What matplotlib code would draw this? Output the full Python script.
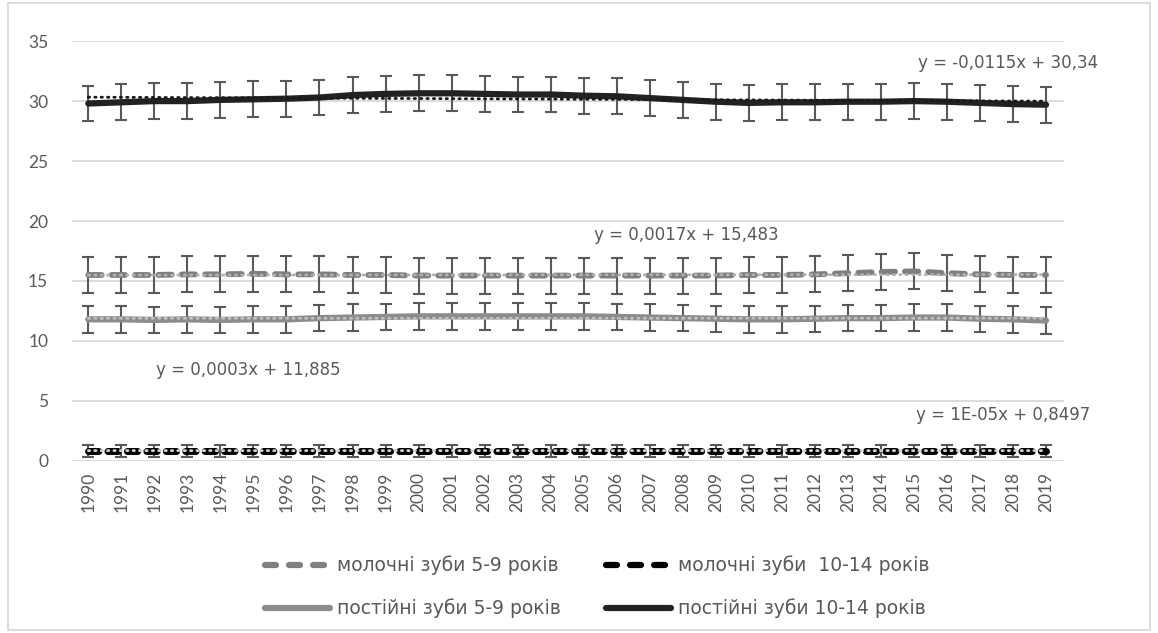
import numpy as np
import matplotlib.pyplot as plt
from matplotlib.patches import Rectangle
from matplotlib.lines import Line2D

plt.rcParams['font.family'] = ['Lato', 'DejaVu Sans']

years = list(range(1990, 2020))

# середні значення
milk_5_9 = [15.5, 15.5, 15.5, 15.55, 15.55, 15.6, 15.55, 15.55, 15.5, 15.5,
            15.45, 15.45, 15.45, 15.45, 15.45, 15.45, 15.45, 15.45, 15.45, 15.45,
            15.5, 15.5, 15.55, 15.65, 15.75, 15.8, 15.65, 15.55, 15.5, 15.5]
milk_10_14 = [0.85] * 30
perm_5_9 = [11.8, 11.8, 11.75, 11.8, 11.75, 11.8, 11.8, 11.9, 11.95, 12.0,
            12.05, 12.05, 12.05, 12.05, 12.05, 12.05, 12.0, 11.95, 11.9, 11.85,
            11.8, 11.8, 11.85, 11.9, 11.9, 11.95, 11.95, 11.85, 11.8, 11.7]
perm_10_14 = [29.8, 29.9, 30.0, 30.0, 30.1, 30.15, 30.2, 30.3, 30.5, 30.6,
              30.65, 30.65, 30.6, 30.55, 30.55, 30.45, 30.4, 30.25, 30.1, 29.95,
              29.85, 29.9, 29.9, 29.95, 29.95, 30.0, 29.95, 29.85, 29.75, 29.7]

# похибки
err_milk_5_9 = [1.5] * 30
err_milk_10_14 = [0.5] * 30
err_perm_5_9 = [1.1] * 30
err_perm_10_14 = [1.5] * 30

# лінійні тренди (x = 1..30)
trends = {
    'milk_5_9': (0.0017, 15.483),
    'milk_10_14': (0.00001, 0.8497),
    'perm_5_9': (0.0003, 11.885),
    'perm_10_14': (-0.0115, 30.34),
}
trend_labels = {
    'milk_5_9': 'y = 0,0017x + 15,483',
    'milk_10_14': 'y = 1E-05x + 0,8497',
    'perm_5_9': 'y = 0,0003x + 11,885',
    'perm_10_14': 'y = -0,0115x + 30,34',
}
# положення підписів рівнянь (рік, значення)
label_pos = {
    'perm_10_14': (2017.85, 33.2),
    'milk_5_9': (2008.1, 18.8),
    'perm_5_9': (1994.85, 7.6),
    'milk_10_14': (2017.7, 3.8),
}

labels = {
    'milk_5_9': 'молочні зуби 5-9 років',
    'milk_10_14': 'молочні зуби  10-14 років',
    'perm_5_9': 'постійні зуби 5-9 років',
    'perm_10_14': 'постійні зуби 10-14 років',
}

text_col = '#595959'
grid_col = '#d9d9d9'
err_col = '#595959'
W, H = 1158, 633

fig = plt.figure(figsize=(W / 100, H / 100), dpi=100)
ax = fig.add_axes([0.062, 0.272, 0.857, 0.663])

x = np.array(years)
xi = np.arange(1, 31)

# ключ, значення, похибки, колір лінії, товщина, штрихи (None = суцільна), колір тренду
series = [
    ('milk_5_9', milk_5_9, err_milk_5_9, '#7f7f7f', 4.2, (2.3, 1.7), '#b0b0b0'),
    ('milk_10_14', milk_10_14, err_milk_10_14, '#000000', 5.0, (1.5, 1.3), '#d0d0d0'),
    ('perm_5_9', perm_5_9, err_perm_5_9, '#8c8c8c', 4.5, None, '#bfbfbf'),
    ('perm_10_14', perm_10_14, err_perm_10_14, '#222222', 4.5, None, '#1a1a1a'),
]

for key, vals, errs, col, lw, dash, tcol in series:
    ax.errorbar(x, vals, yerr=errs, fmt='none', ecolor=err_col,
                elinewidth=1.5, capsize=4.5, capthick=1.5, zorder=2)
    if dash:
        ax.plot(x, vals, color=col, lw=lw, dashes=dash,
                dash_capstyle='round', zorder=3)
    else:
        ax.plot(x, vals, color=col, lw=lw, solid_capstyle='round', zorder=3)
    k, b = trends[key]
    ax.plot(x, k * xi + b, color=tcol, lw=2, linestyle=(0, (0.5, 1.8)),
            dash_capstyle='round', zorder=4)
    tx, ty = label_pos[key]
    ax.text(tx, ty, trend_labels[key], color=text_col, fontsize=12,
            family='DejaVu Sans', ha='center', va='center')

ax.set_xlim(1989.5, 2019.55)
ax.set_ylim(0, 35)
ax.set_yticks(range(0, 36, 5))
ax.set_xticks(years)
ax.set_xticklabels([str(y) for y in years], rotation=90)
ax.tick_params(axis='both', length=0, colors=text_col, labelsize=12.5)
ax.tick_params(axis='y', pad=17)
ax.tick_params(axis='x', pad=8)
ax.yaxis.grid(True, color=grid_col, lw=1.3)
ax.set_axisbelow(True)
for s in ax.spines.values():
    s.set_visible(False)

# легенда вручну: два рядки по два елементи (координати в пікселях)
legend_items = [
    ('milk_5_9', 265, 565, '#7f7f7f', True),
    ('milk_10_14', 606, 565, '#000000', True),
    ('perm_5_9', 265, 608, '#8c8c8c', False),
    ('perm_10_14', 606, 608, '#222222', False),
]
for key, px, py, col, dashed in legend_items:
    yf = 1 - py / H
    if dashed:
        x0, x1, tx = px, px + 59, px + 72
        ln = Line2D([x0 / W, x1 / W], [yf, yf], transform=fig.transFigure,
                    color=col, lw=4.5, dashes=(1.75, 2.1), dash_capstyle='round')
    else:
        x0, x1, tx = px, px + 65, px + 72
        ln = Line2D([x0 / W, x1 / W], [yf, yf], transform=fig.transFigure,
                    color=col, lw=4.5, solid_capstyle='round')
    fig.add_artist(ln)
    fig.text(tx / W, yf, labels[key], color=text_col, fontsize=13.5,
             family='DejaVu Sans', ha='left', va='center')

fig.patches.append(Rectangle((0.007, 0.005), 0.986, 0.99, transform=fig.transFigure,
                             fill=False, edgecolor=grid_col, lw=1.3))

fig.savefig('out.png', dpi=100, facecolor='white')
